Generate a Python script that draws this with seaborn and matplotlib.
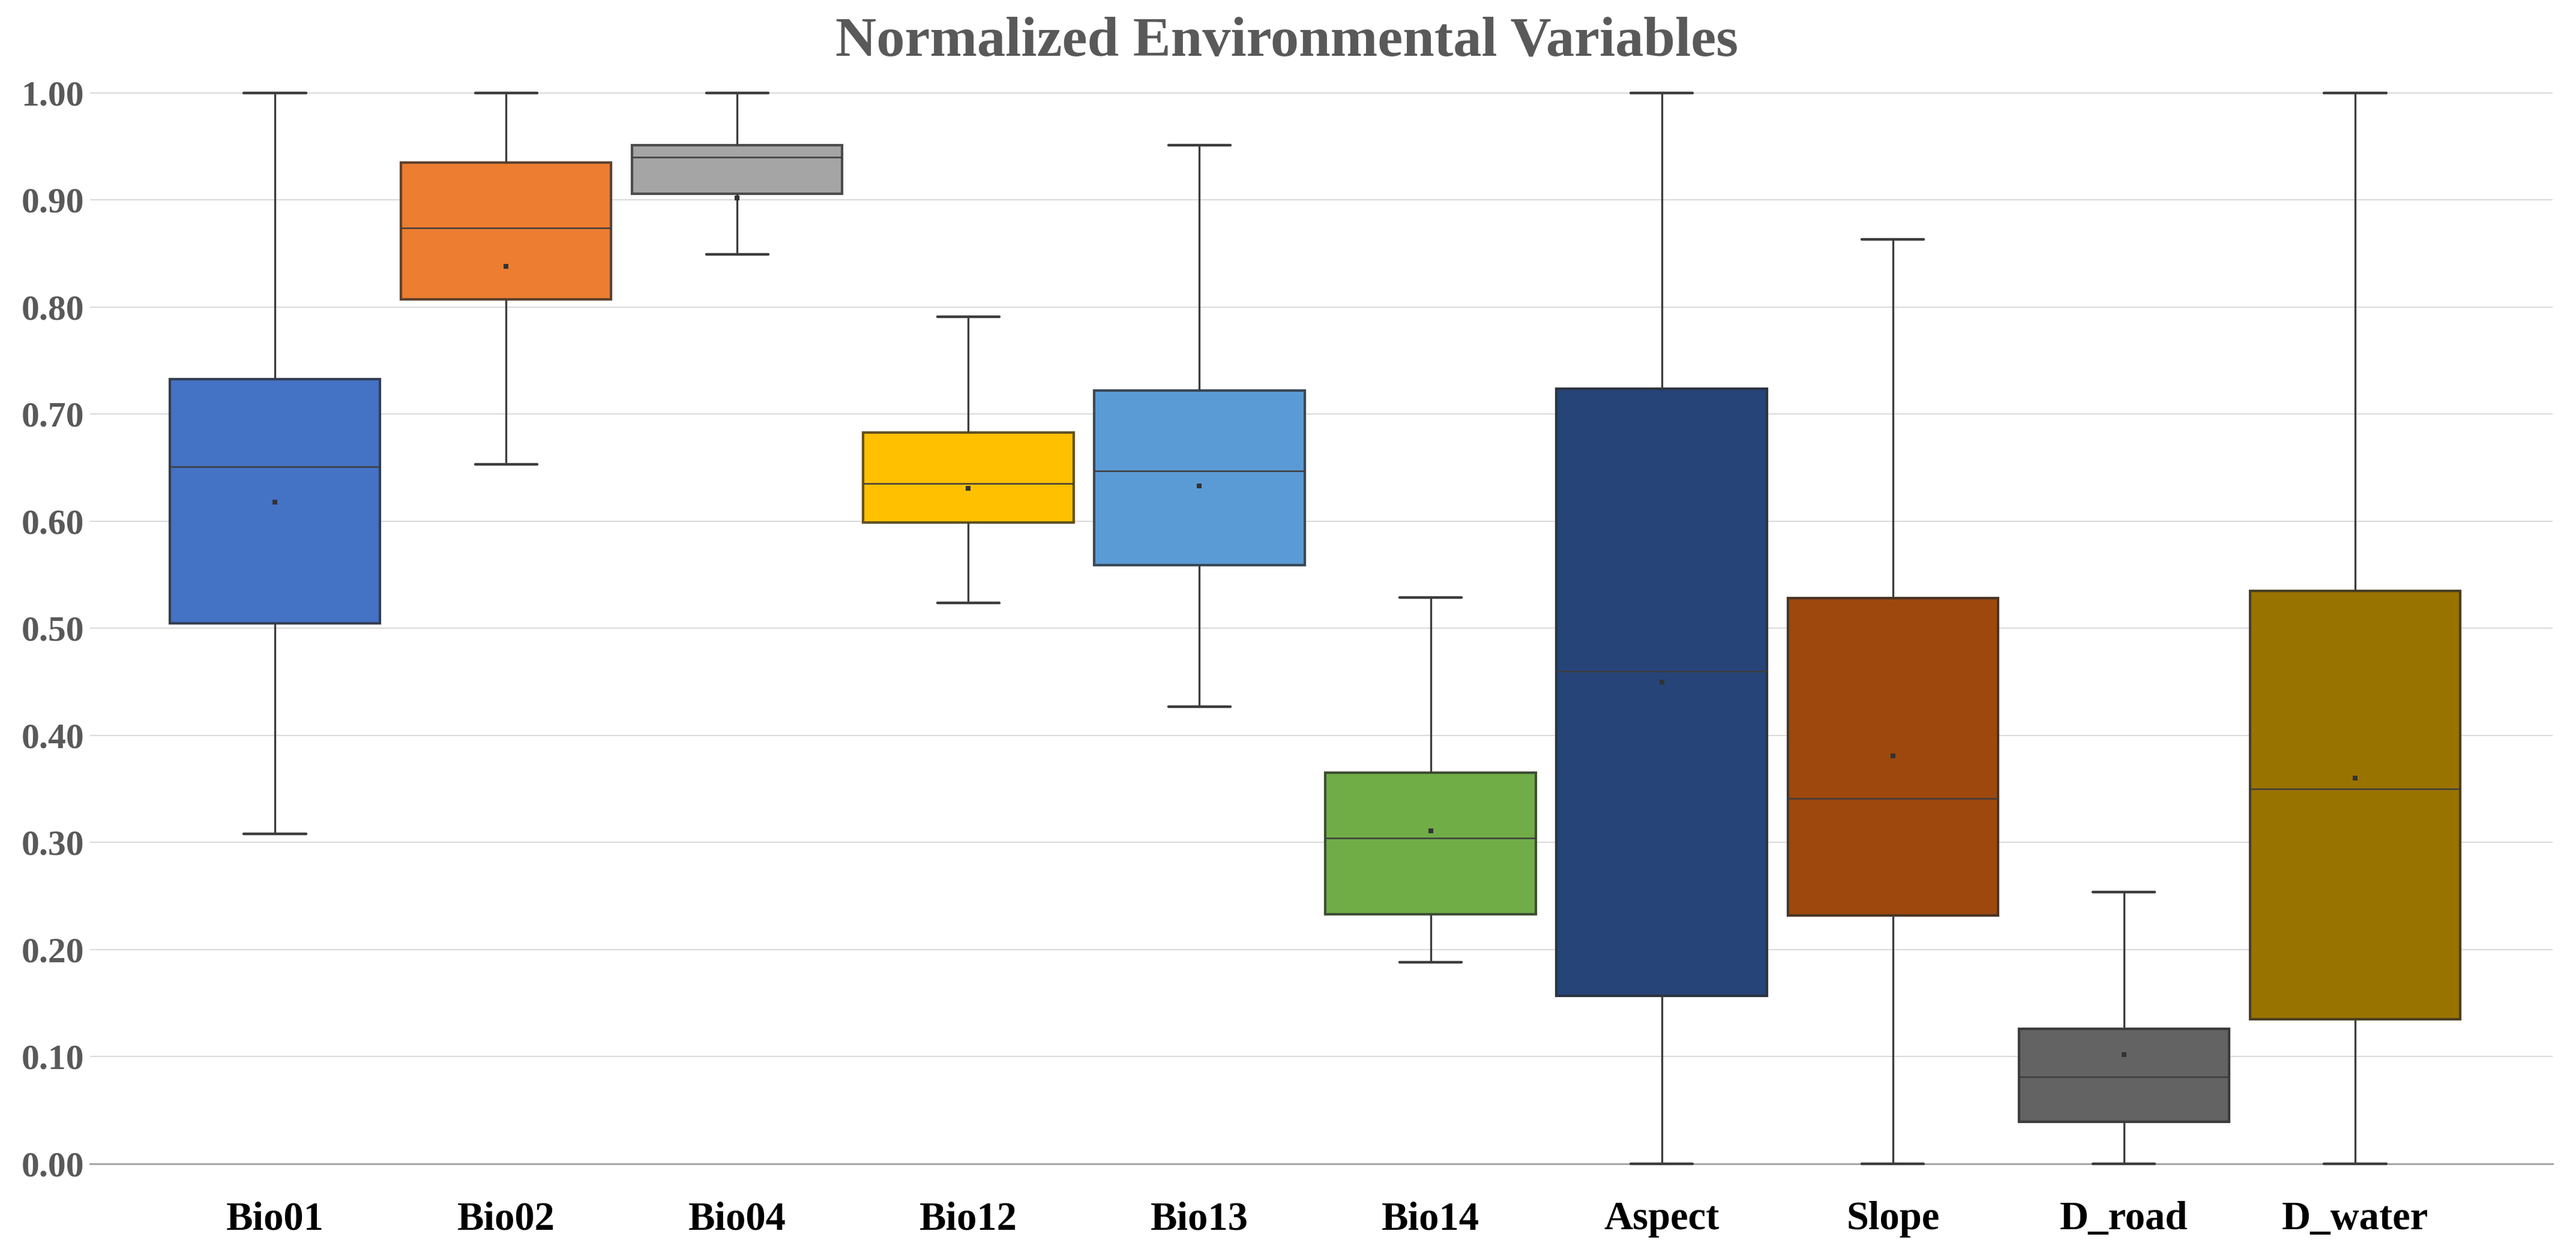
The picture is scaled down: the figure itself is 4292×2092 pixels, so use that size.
import numpy as np
import pandas as pd
import matplotlib
matplotlib.use('Agg')
import matplotlib.pyplot as plt
import matplotlib.colors as mcolors
import seaborn as sns

# summary statistics (normalized 0-1)
variables = ['Bio01', 'Bio02', 'Bio04', 'Bio12', 'Bio13', 'Bio14',
             'Aspect', 'Slope', 'D_road', 'D_water']
v_min = [0.308, 0.653, 0.849, 0.524, 0.427, 0.188, 0.000, 0.000, 0.000, 0.000]
v_q1 = [0.505, 0.807, 0.906, 0.599, 0.559, 0.233, 0.157, 0.232, 0.039, 0.135]
v_median = [0.651, 0.874, 0.940, 0.635, 0.647, 0.304, 0.460, 0.341, 0.081, 0.350]
v_q3 = [0.733, 0.935, 0.951, 0.683, 0.722, 0.365, 0.724, 0.528, 0.126, 0.535]
v_max = [1.000, 1.000, 1.000, 0.791, 0.951, 0.529, 1.000, 0.863, 0.254, 1.000]
v_mean = [0.618, 0.838, 0.902, 0.631, 0.633, 0.311, 0.450, 0.381, 0.102, 0.360]

colors = ['#4472C4', '#ED7D31', '#A5A5A5', '#FFC000', '#5B9BD5',
          '#70AD47', '#264478', '#9E480E', '#636363', '#997300']

# long table: five-number summary per variable
rows = []
for i, v in enumerate(variables):
    for val in (v_min[i], v_q1[i], v_median[i], v_q3[i], v_max[i]):
        rows.append({'variable': v, 'value': val})
df = pd.DataFrame(rows)
means = pd.DataFrame({'variable': variables, 'value': v_mean})

sns.set_theme(style='whitegrid')
plt.rcParams['font.family'] = ['Liberation Serif', 'DejaVu Serif']
plt.rcParams['font.weight'] = 'bold'

fig = plt.figure(figsize=(42.92, 20.92), dpi=100)
ax = fig.add_axes([0.03495, 0.0684, 0.9560, 0.8618])

box_w = 0.91
sns.boxplot(data=df, x='variable', y='value', hue='variable',
            order=variables, hue_order=variables, palette=colors,
            saturation=1, width=box_w, whis=(0, 100), linecolor='#3d3d3d',
            linewidth=2.4, legend=False, ax=ax,
            medianprops={'linewidth': 1.8},
            capprops={'linewidth': 3.2})

# mean markers
sns.stripplot(data=means, x='variable', y='value', order=variables,
              jitter=False, marker='s', size=6, color='#333333',
              linewidth=0, ax=ax, zorder=5)

# darker edge for each box, mixed from its fill colour
dark = np.array(mcolors.to_rgb('#2e2e2e'))
for patch, col in zip(ax.patches, colors):
    rgb = np.array(mcolors.to_rgb(col))
    patch.set_edgecolor(tuple(rgb * 0.25 + dark * 0.75))
    patch.set_linewidth(3)

# shorter whisker caps
for line in ax.lines:
    xd = np.asarray(line.get_xdata(), dtype=float)
    yd = np.asarray(line.get_ydata(), dtype=float)
    if len(xd) == 2 and yd[0] == yd[1] and abs((xd[1] - xd[0]) - box_w / 2) < 0.02:
        c = xd.mean()
        line.set_xdata([c - 0.134, c + 0.134])

ax.set_xlim(-0.80, 9.855)
ax.set_ylim(-0.005, 1.005)
ax.set_yticks(np.arange(0, 1.01, 0.1))
ax.set_yticklabels([f'{t:.2f}' for t in np.arange(0, 1.01, 0.1)])
ax.set_xlabel('')
ax.set_ylabel('')

ax.set_axisbelow(True)
ax.yaxis.grid(True, color='#d9d9d9', linewidth=1.4)
ax.xaxis.grid(False)
for side in ['top', 'right', 'left']:
    ax.spines[side].set_visible(False)
ax.spines['bottom'].set_position(('data', 0))
ax.spines['bottom'].set_color('#a6a6a6')
ax.spines['bottom'].set_linewidth(2.2)
ax.spines['bottom'].set_zorder(0.6)

ax.tick_params(axis='x', length=0, labelsize=48, labelcolor='black', pad=45)
ax.tick_params(axis='y', length=0, labelsize=43, labelcolor='#595959', pad=7)
for lab in ax.get_xticklabels() + ax.get_yticklabels():
    lab.set_fontweight('bold')

fig.text(0.4995, 1 - 92 / 2092, 'Normalized Environmental Variables',
         ha='center', va='baseline', fontsize=68, color='#595959',
         fontweight='bold')

fig.savefig('out.png', dpi=100)
